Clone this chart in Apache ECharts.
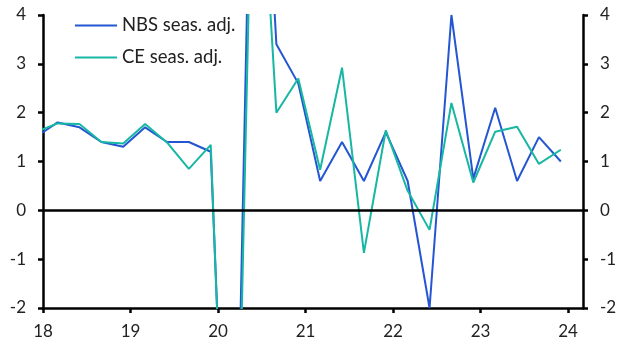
<!doctype html>
<html>
<head>
    <meta charset="utf-8">
    <title>China GDP q/q</title>
    <script src="https://cdn.jsdelivr.net/npm/echarts@6/dist/echarts.min.js"></script>
</head>
<body style="margin:0;padding:0;">
    <div id="tb" style="width:631px;height:353px;"></div>
    <script>
        // quarters, % q/q
        var quarters = ['2017Q4',
            '2018Q1', '2018Q2', '2018Q3', '2018Q4',
            '2019Q1', '2019Q2', '2019Q3', '2019Q4',
            '2020Q1', '2020Q2', '2020Q3', '2020Q4',
            '2021Q1', '2021Q2', '2021Q3', '2021Q4',
            '2022Q1', '2022Q2', '2022Q3', '2022Q4',
            '2023Q1', '2023Q2', '2023Q3', '2023Q4'];
        var nbsSA = [1.5,
            1.8, 1.7, 1.4, 1.3,
            1.7, 1.4, 1.4, 1.2,
            -9.8, 11.4, 3.4, 2.6,
            0.6, 1.4, 0.6, 1.6,
            0.6, -2.0, 4.0, 0.65,
            2.1, 0.6, 1.5, 1.0];
        var ceSA = [1.6,
            1.78, 1.77, 1.4, 1.37,
            1.77, 1.39, 0.85, 1.34,
            -10.4, 9.5, 2.0, 2.7,
            0.83, 2.92, -0.87, 1.64,
            0.4, -0.4, 2.2, 0.57,
            1.61, 1.71, 0.95, 1.24];
        var yearTicks = [18, 19, 20, 21, 22, 23, 24];

        // quarter -> decimal year (plotted at last month of quarter)
        function qx(q) {
            var y = parseInt(q.slice(0, 4), 10) - 2000;
            var n = parseInt(q.slice(5), 10);
            return y + (3 * n - 1) / 12;
        }
        function pairs(vals) {
            return quarters.map(function (q, i) { return [qx(q), vals[i]]; });
        }

        var font = 'Lato, "Noto Sans", sans-serif';
        var txt = '#222';
        var yAx = function (pos) {
            return {
                type: 'value', position: pos, min: -2, max: 4, interval: 1,
                axisLine: { show: true, lineStyle: { color: '#000', width: 2.5 } },
                axisTick: { show: true, inside: false, length: 5, lineStyle: { color: '#000', width: 2.5 } },
                axisLabel: { color: txt, fontSize: 17, fontFamily: font, margin: 17 },
                splitLine: { show: false }
            };
        };

        var chart = echarts.init(document.getElementById('tb'));
        chart.setOption({
            animation: false,
            grid: { left: 43, right: 48, top: 15, bottom: 45 },
            legend: {
                orient: 'vertical', left: 70, top: 11,
                icon: 'rect',
                itemWidth: 42, itemHeight: 2, itemGap: 13,
                textStyle: { color: txt, fontSize: 18.5, fontFamily: font }
            },
            xAxis: {
                type: 'value', min: 18, max: 24.17,
                axisLine: { onZero: false, lineStyle: { color: '#000', width: 2.5 } },
                axisTick: { customValues: yearTicks, length: 5, lineStyle: { color: '#000', width: 2.5 } },
                axisLabel: { customValues: yearTicks, color: txt, fontSize: 17, fontFamily: font, margin: 15 },
                splitLine: { show: false }
            },
            yAxis: [yAx('left'), yAx('right')],
            series: [{
                name: 'NBS seas. adj.',
                type: 'line', symbol: 'none',
                data: pairs(nbsSA),
                lineStyle: { color: '#2455d2', width: 2 },
                itemStyle: { color: '#2455d2' },
                markLine: {
                    silent: true, symbol: 'none', label: { show: false },
                    lineStyle: { color: '#000', width: 2.5, type: 'solid' },
                    data: [{ yAxis: 0 }]
                }
            }, {
                name: 'CE seas. adj.',
                type: 'line', symbol: 'none',
                data: pairs(ceSA),
                lineStyle: { color: '#17b7a3', width: 2 },
                itemStyle: { color: '#17b7a3' }
            }]
        });
    </script>
</body>
</html>
